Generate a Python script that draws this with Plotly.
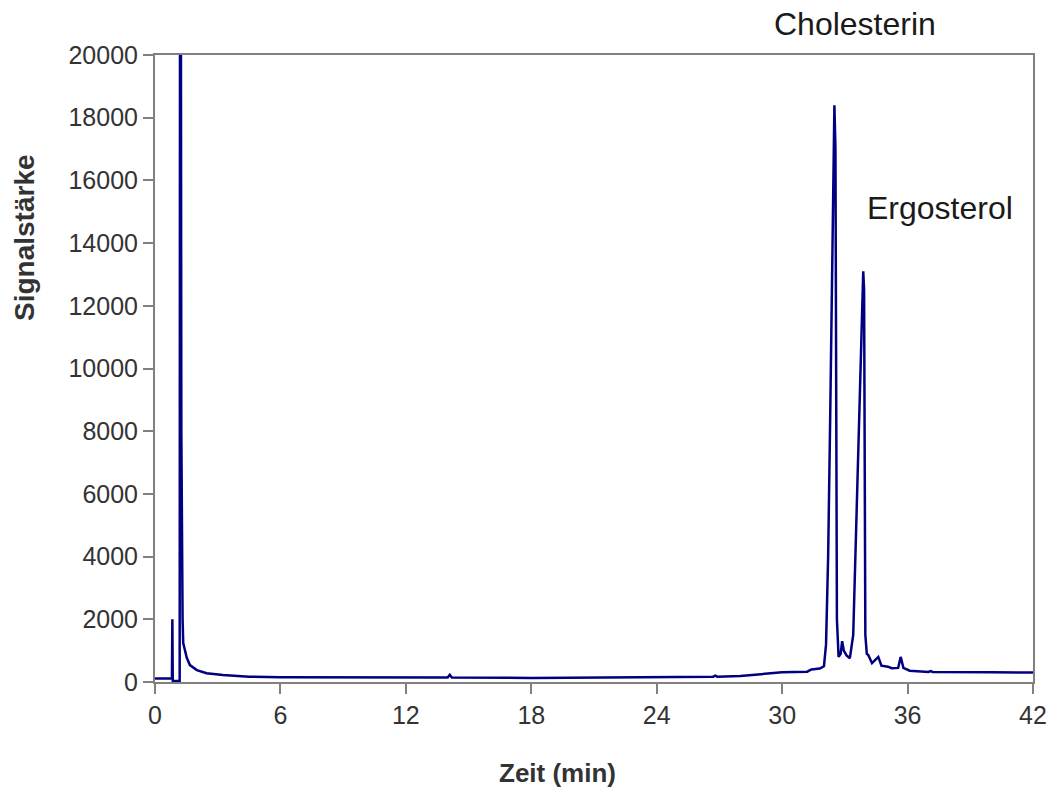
import plotly.graph_objects as go

# Retention time (min) and detector signal
time_min = [0, 0.81, 0.83, 0.85, 1.15, 1.18, 1.21, 1.26, 1.32, 1.35, 1.52, 1.67, 2.0, 2.47,
            3.25, 4.5, 6, 10, 14.0, 14.1, 14.2, 18, 22, 24, 26.7, 26.8, 26.9, 28, 29, 30,
            31.2, 31.4, 31.8, 32.0, 32.1, 32.2, 32.3, 32.4, 32.5, 32.55, 32.58, 32.62, 32.7,
            32.8, 32.87, 32.95, 33.08, 33.24, 33.4, 33.5, 33.6, 33.7, 33.8, 33.88, 33.92,
            33.95, 33.98, 34.05, 34.12, 34.3, 34.6, 34.75, 35.06, 35.24, 35.55, 35.67, 35.8,
            36.1, 37.0, 37.1, 37.2, 40, 42]
signal = [110, 120, 2000, 30, 30, 30, 40000, 8000, 2000, 1240, 770, 540, 380, 280,
          220, 170, 150, 140, 140, 230, 140, 130, 140, 150, 170, 200, 170, 190, 260, 310,
          330, 400, 430, 500, 1200, 4000, 8500, 13500, 18400, 17000, 8000, 2000, 800,
          900, 1300, 1000, 850, 760, 1500, 4000, 6800, 9400, 11800, 13100, 12500,
          6000, 1500, 900, 860, 600, 800, 520, 490, 440, 450, 800, 450,
          360, 320, 350, 320, 310, 300]

x_ticks = [0, 6, 12, 18, 24, 30, 36, 42]
y_ticks = [0, 2000, 4000, 6000, 8000, 10000, 12000, 14000, 16000, 18000, 20000]

peak_labels = ["Cholesterin", "Ergosterol"]

font_family = "Liberation Sans, Arial, sans-serif"
frame = "#808080"

W, H = 1054, 791
ML, MR, MT, MB = 155, 21, 55, 109

fig = go.Figure()
fig.add_trace(go.Scatter(x=time_min, y=signal, mode="lines",
                         line=dict(color="#000080", width=2.5), showlegend=False))

fig.update_layout(
    width=W, height=H,
    autosize=False,
    margin=dict(l=ML, r=MR, t=MT, b=MB, autoexpand=False),
    paper_bgcolor="white", plot_bgcolor="white",
    font=dict(family=font_family, size=25, color="#333333"),
    xaxis=dict(range=[0, 42], tickmode="array", tickvals=x_ticks,
               ticktext=[str(v) for v in x_ticks], automargin=False,
               showgrid=False, zeroline=False, showline=True, mirror=True,
               linecolor=frame, linewidth=2, ticks="outside", ticklen=10,
               tickcolor=frame, tickwidth=1.5,
               tickfont=dict(size=25, color="#333333")),
    yaxis=dict(range=[0, 20000], tickmode="array", tickvals=y_ticks,
               ticktext=[str(v) for v in y_ticks], automargin=False,
               showgrid=False, zeroline=False, showline=True, mirror=True,
               linecolor=frame, linewidth=2, ticks="outside", ticklen=10,
               tickcolor=frame, tickwidth=1.5,
               tickfont=dict(size=25, color="#333333")),
    annotations=[
        dict(text=peak_labels[0], x=855, y=24, xref="paper", yref="paper",
             showarrow=False, font=dict(size=32, color="#1a1a1a")),
        dict(text=peak_labels[1], x=940, y=208, xref="paper", yref="paper",
             showarrow=False, font=dict(size=32, color="#1a1a1a")),
        dict(text="<b>Zeit (min)</b>", x=557, y=773, xref="paper", yref="paper",
             showarrow=False, font=dict(size=26, color="#333333")),
        dict(text="<b>Signalstärke</b>", x=24, y=238, xref="paper", yref="paper",
             textangle=-90, showarrow=False, font=dict(size=28, color="#333333")),
    ],
)

# convert pixel positions of annotations into paper coordinates
pw = W - ML - MR
ph = H - MT - MB
for a in fig.layout.annotations:
    px, py = a.x, a.y
    a.x = (px - ML) / pw
    a.y = 1 - (py - MT) / ph
    a.xanchor = "center"
    a.yanchor = "middle"

fig.write_html("out.html",
               config={"displayModeBar": False, "responsive": False},
               post_script="document.body.style.margin='0';document.body.style.overflow='hidden';")
